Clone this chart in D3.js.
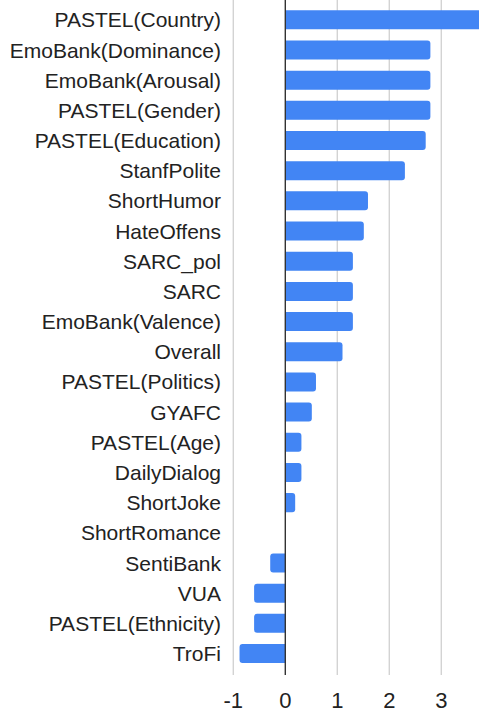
<!DOCTYPE html>
<html lang="en">
  <head>
    <meta charset="UTF-8" />
    <title>Dataset bar chart</title>
    <script src="https://d3js.org/d3.v7.min.js"></script>
    <style>
      body {
        margin: 0;
        background: #fff;
      }
      text {
        font-family: "Liberation Sans", Arial, sans-serif;
        fill: #222;
      }
      .grid {
        stroke: #d3d3d3;
        stroke-width: 1.4;
      }
      .zero {
        stroke: #333;
        stroke-width: 1.4;
      }
    </style>
  </head>
  <body>
    <svg width="479" height="711"></svg>
    <script>
      // dataset names, top to bottom
      var categories = [
        "PASTEL(Country)", "EmoBank(Dominance)", "EmoBank(Arousal)", "PASTEL(Gender)",
        "PASTEL(Education)", "StanfPolite", "ShortHumor", "HateOffens", "SARC_pol",
        "SARC", "EmoBank(Valence)", "Overall", "PASTEL(Politics)", "GYAFC",
        "PASTEL(Age)", "DailyDialog", "ShortJoke", "ShortRomance", "SentiBank",
        "VUA", "PASTEL(Ethnicity)", "TroFi"
      ];
      var values = [
        4.1, 2.79, 2.79, 2.79,
        2.7, 2.3, 1.59, 1.51, 1.3,
        1.3, 1.3, 1.1, 0.59, 0.51,
        0.31, 0.31, 0.19, 0, -0.29,
        -0.6, -0.6, -0.88
      ];
      var tickValues = [-1, 0, 1, 2, 3];

      var svg = d3.select("svg");

      var x = d3.scaleLinear().domain([-1, 3]).range([233.3, 441.3]);
      var y = d3.scaleBand()
        .domain(categories)
        .range([4.7, 668.6])
        .paddingInner(0.37)
        .paddingOuter(0.185);

      var gridTop = 0, gridBottom = 675;

      // gridlines
      svg.append("g")
        .selectAll("line")
        .data(tickValues.filter(function (d) { return d !== 0; }))
        .enter()
        .append("line")
        .attr("class", "grid")
        .attr("x1", function (d) { return x(d); })
        .attr("x2", function (d) { return x(d); })
        .attr("y1", gridTop)
        .attr("y2", gridBottom);

      // bars, rounded only on the outer end
      var r = 3;
      function barPath(d, i) {
        var name = categories[i];
        var y0 = y(name), h = y.bandwidth();
        var x0 = x(0), x1 = x(d);
        if (x1 === x0) return "";
        var s = x1 > x0 ? 1 : -1;
        var rr = Math.min(r, Math.abs(x1 - x0));
        return "M" + x0 + "," + y0 +
          "H" + (x1 - s * rr) +
          "Q" + x1 + "," + y0 + " " + x1 + "," + (y0 + rr) +
          "V" + (y0 + h - rr) +
          "Q" + x1 + "," + (y0 + h) + " " + (x1 - s * rr) + "," + (y0 + h) +
          "H" + x0 + "Z";
      }

      svg.append("g")
        .selectAll("path")
        .data(values)
        .enter()
        .append("path")
        .attr("fill", "#4285f4")
        .attr("d", barPath);

      // zero line on top
      svg.append("line")
        .attr("class", "zero")
        .attr("x1", x(0))
        .attr("x2", x(0))
        .attr("y1", gridTop)
        .attr("y2", gridBottom);

      // category labels
      svg.append("g")
        .selectAll("text")
        .data(categories)
        .enter()
        .append("text")
        .attr("x", 221)
        .attr("y", function (d) { return y(d) + y.bandwidth() / 2; })
        .attr("dy", "0.36em")
        .attr("text-anchor", "end")
        .style("font-size", "21px")
        .text(function (d) { return d; });

      // x tick labels
      svg.append("g")
        .selectAll("text")
        .data(tickValues)
        .enter()
        .append("text")
        .attr("x", function (d) { return x(d); })
        .attr("y", 707.5)
        .attr("text-anchor", "middle")
        .style("font-size", "22px")
        .text(function (d) { return d < 0 ? "-" + Math.abs(d) : d; });
    </script>
  </body>
</html>
